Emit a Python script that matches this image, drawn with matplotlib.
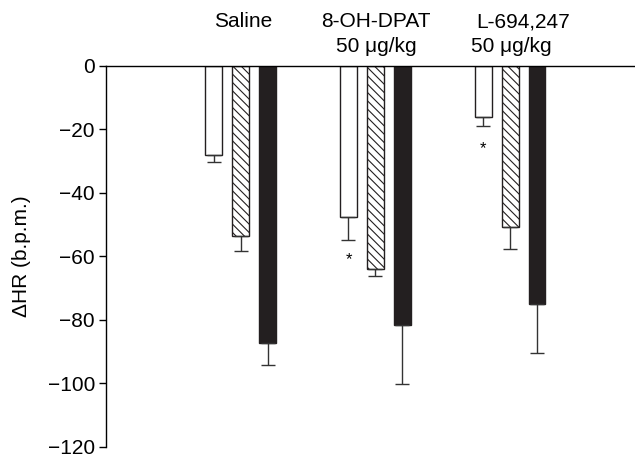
import numpy as np
from matplotlib import pyplot as plt

plt.rcParams['font.family'] = ['Liberation Sans', 'DejaVu Sans']
plt.rcParams['font.size'] = 15
plt.rcParams['hatch.linewidth'] = 0.8

groups = ["Saline", "8-OH-DPAT", "L-694,247"]
doses = ["", "50 \u03bcg/kg", "50 \u03bcg/kg"]
open_vals = [-28, -47.5, -16]
open_err = [2.2, 7.5, 2.9]
hatch_vals = [-53.5, -64, -50.7]
hatch_err = [4.7, 2.3, 7.0]
black_vals = [-87.4, -81.6, -75]
black_err = [6.9, 18.6, 15.4]
stars = [None, -61, -26]   # significance marks under open bars

fig = plt.figure(figsize=(6.35, 4.57), dpi=100)
ax = fig.add_axes([0.167, 0.022, 0.84, 0.834])

x = np.arange(len(groups))
w = 0.125
off = 0.2
ekw = dict(ecolor='#333333', elinewidth=1.0, capsize=5, capthick=1.0)

ax.bar(x - off, open_vals, w, color='white', edgecolor='#231f20', linewidth=1.0,
       yerr=[open_err, np.zeros(3)], error_kw=ekw, zorder=2)
ax.bar(x, hatch_vals, w, color='white', edgecolor='#231f20', linewidth=1.0,
       hatch='\\\\\\\\', yerr=[hatch_err, np.zeros(3)], error_kw=ekw, zorder=2)
ax.bar(x + off, black_vals, w, color='#231f20', edgecolor='#231f20', linewidth=1.0,
       yerr=[black_err, np.zeros(3)], error_kw=ekw, zorder=2)

for i, s in enumerate(stars):
    if s is not None:
        ax.text(x[i] - off, s, '*', ha='center', va='center', fontsize=12)

# group headers above the plot
name_dx = [0.02, 0.005, 0.1]
dose_dx = [0.0, 0.01, 0.01]
for i in range(len(groups)):
    ax.text(x[i] + name_dx[i], 1.116, groups[i], ha='center', va='center',
            fontsize=15, transform=ax.get_xaxis_transform())
    if doses[i]:
        ax.text(x[i] + dose_dx[i], 1.05, doses[i], ha='center', va='center',
                fontsize=15, transform=ax.get_xaxis_transform())

ax.set_xlim(-1.0, 2.96)
ax.set_ylim(-120, 0)
ax.set_yticks([0, -20, -40, -60, -80, -100, -120])
ax.set_yticklabels(['0', '\u221220', '\u221240', '\u221260', '\u221280', '\u2212100', '\u2212120'])
ax.set_xticks([])
ax.spines['bottom'].set_visible(False)
ax.spines['right'].set_visible(False)
ax.spines['top'].set_linewidth(1.0)
ax.spines['left'].set_linewidth(1.0)
ax.tick_params(axis='y', length=5, width=1.0, labelsize=15, pad=3)
ax.set_ylabel("\u0394HR (b.p.m.)", fontsize=15, labelpad=12)

fig.savefig('out.png', dpi=100)
